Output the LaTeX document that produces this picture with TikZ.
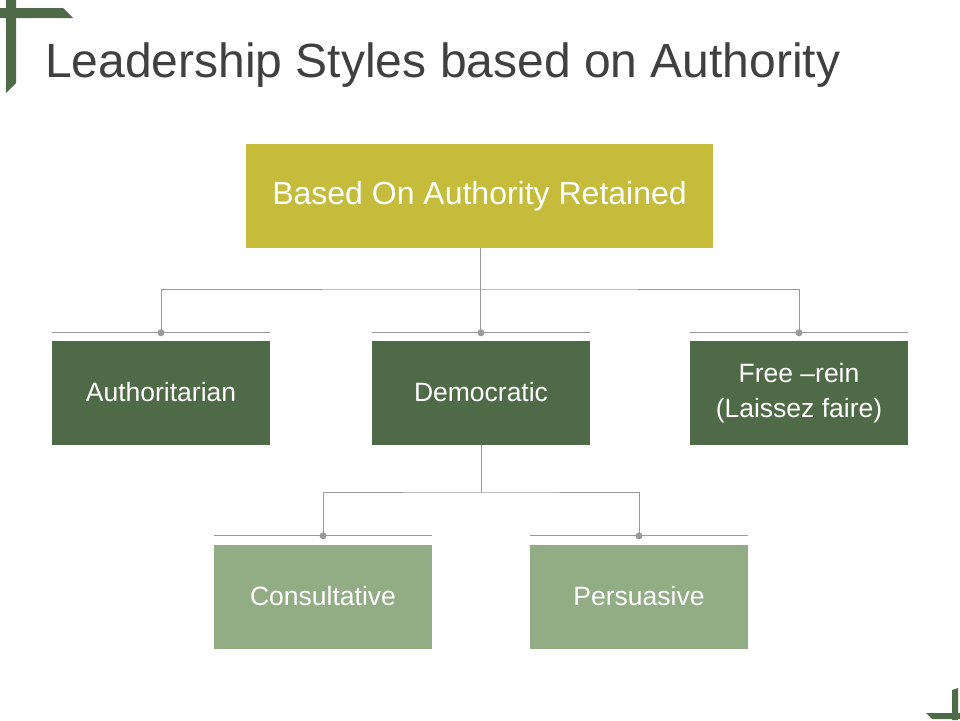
\documentclass[tikz,border=0pt]{standalone}
\usepackage{fontspec}
\setmainfont{Liberation Sans}
\begin{document}
\begin{tikzpicture}[x=1pt,y=-1pt,
  bx/.style={minimum width=218pt,minimum height=104pt,inner sep=0pt,text=white,align=center,font=\fontsize{26.5}{32}\selectfont},
  conn/.style={draw=black!40,line width=1pt},
  dotc/.style={circle,fill=black!40,inner sep=0pt,minimum size=7pt}]
\useasboundingbox (0,0) rectangle (960,720);
\definecolor{dg}{HTML}{4F6A46}
\definecolor{ol}{HTML}{C4BC3A}
\definecolor{lg}{HTML}{92AD86}
% decorations
\fill[dg] (6,0) -- (16,0) -- (16,83) -- (6,93) -- cycle;
\fill[dg] (0,8) -- (63,8) -- (73,18) -- (0,18) -- cycle;
\fill[dg] (952,690) -- (958,688) -- (958,720) -- (952,720) -- cycle;
\fill[dg] (926,713) -- (960,713) -- (960,719) -- (932,719) -- cycle;
\node[anchor=base west,text=black!75,font=\fontsize{48}{54}\selectfont,inner sep=0pt] (title) at (45,77) {Leadership Styles based on Authority};
\node[bx,fill=ol,minimum width=467pt,font=\fontsize{32}{36}\selectfont] (top) at (479.5,196) {Based On Authority Retained};
\node[bx,fill=dg] (a) at (161,393) {\raisebox{3pt}{Authoritarian}};
\node[bx,fill=dg] (d) at (481,393) {\raisebox{3pt}{Democratic}};
\node[bx,fill=dg] (f) at (799,393) {\raisebox{3pt}{Free –rein}\\(Laissez faire)};
\node[bx,fill=lg] (c) at (323,597) {\raisebox{3pt}{Consultative}};
\node[bx,fill=lg] (p) at (639,597) {\raisebox{3pt}{Persuasive}};
\foreach \n in {a,d,f} {
  \coordinate (\n t) at ([yshift=8pt]\n.north);
  \draw[conn,line width=0.7pt] ([yshift=8pt]\n.north west) -- ([yshift=8pt]\n.north east);
}
\foreach \n in {c,p} {
  \coordinate (\n t) at ([yshift=9pt]\n.north);
  \draw[conn,line width=0.7pt] ([yshift=9pt]\n.north west) -- ([yshift=9pt]\n.north east);
}
\coordinate (j1) at (480,289);
\draw[conn] (top.south -| j1) -- (j1);
\draw[conn] (at) |- (j1) -| (ft);
\draw[conn] (j1) -- (j1 |- dt);
\coordinate (j2) at (481,492);
\draw[conn] (d.south) -- (j2);
\draw[conn] (ct) |- (j2) -| (pt);
\foreach \n in {a,d,f,c,p} \node[dotc] at (\n t) {};
\end{tikzpicture}
\end{document}
